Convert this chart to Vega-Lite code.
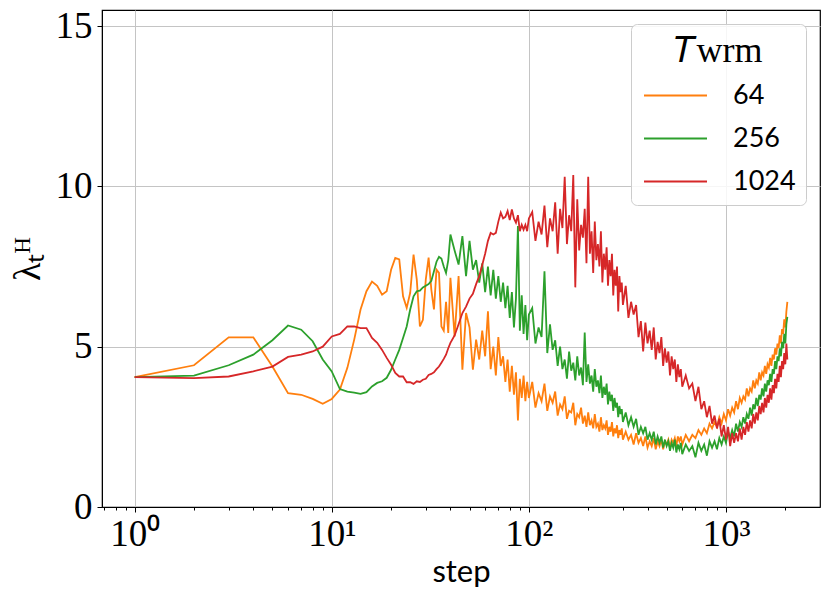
{
  "$schema": "https://vega.github.io/schema/vega-lite/v6.json",
  "description": "lambda_t^H versus training step for three warm-up lengths",
  "autosize": "none",
  "padding": {"left": 102, "top": 10, "right": 11, "bottom": 93},
  "width": 718,
  "height": 497,
  "datasets": {
    "w64": [
      {"step":1,"lam":4.05},{"step":2,"lam":4.42},{"step":3,"lam":5.29},{"step":4,"lam":5.29},{"step":5,"lam":4.38},
      {"step":6,"lam":3.55},{"step":7,"lam":3.5},{"step":8,"lam":3.37},{"step":9,"lam":3.22},{"step":10,"lam":3.37},
      {"step":11,"lam":3.66},{"step":12,"lam":4.34},{"step":13,"lam":5.22},{"step":14,"lam":6.16},{"step":15,"lam":6.73},
      {"step":16,"lam":7.03},{"step":17,"lam":6.9},{"step":18,"lam":6.62},{"step":19,"lam":6.73},{"step":20,"lam":7.4},
      {"step":21,"lam":7.77},{"step":22,"lam":7.72},{"step":23,"lam":6.57},{"step":24,"lam":6.21},{"step":25,"lam":6.68},
      {"step":26,"lam":7.87},{"step":27,"lam":7.09},{"step":28,"lam":5.63},{"step":29,"lam":5.84},{"step":30,"lam":7.1},
      {"step":31,"lam":7.78},{"step":32,"lam":6.78},{"step":33,"lam":6.16},{"step":34,"lam":7.4},{"step":35,"lam":7.3},
      {"step":36,"lam":5.63},{"step":37,"lam":5.5},{"step":38,"lam":6.4},{"step":39,"lam":5.43},{"step":40,"lam":7.15},
      {"step":42,"lam":5.32},{"step":44,"lam":7.2},{"step":46,"lam":4.28},{"step":48,"lam":6.05},{"step":50,"lam":5.6},
      {"step":52,"lam":4.28},{"step":54,"lam":5.22},{"step":56,"lam":4.6},{"step":58,"lam":5.5},{"step":60,"lam":4.7},
      {"step":62,"lam":6.1},{"step":64,"lam":4.3},{"step":66,"lam":5.0},{"step":68,"lam":4.1},{"step":70,"lam":5.3},
      {"step":72,"lam":4.4},{"step":74,"lam":4.7},{"step":76,"lam":3.9},{"step":78,"lam":4.6},{"step":80,"lam":3.6},
      {"step":82,"lam":4.4},{"step":84,"lam":3.5},{"step":86,"lam":4.2},{"step":88,"lam":2.7},{"step":90,"lam":4.0},
      {"step":92,"lam":3.4},{"step":94,"lam":4.1},{"step":96,"lam":3.3},{"step":98,"lam":3.9},{"step":100,"lam":3.4},
      {"step":104,"lam":3.9},{"step":108,"lam":3.1},{"step":112,"lam":3.55},{"step":116,"lam":3.3},{"step":120,"lam":3.85},
      {"step":124,"lam":3.0},{"step":128,"lam":3.45},{"step":132,"lam":3.25},{"step":136,"lam":3.6},{"step":140,"lam":2.85},
      {"step":144,"lam":3.2},{"step":148,"lam":3.05},{"step":152,"lam":3.45},{"step":156,"lam":2.75},{"step":160,"lam":3.0},
      {"step":164,"lam":2.95},{"step":168,"lam":3.25},{"step":172,"lam":2.55},{"step":176,"lam":2.9},{"step":180,"lam":2.8},
      {"step":184,"lam":3.1},{"step":188,"lam":2.6},{"step":192,"lam":2.85},{"step":196,"lam":2.5},{"step":200,"lam":2.95},
      {"step":204,"lam":2.55},{"step":208,"lam":2.7},{"step":212,"lam":2.45},{"step":216,"lam":2.9},{"step":220,"lam":2.5},
      {"step":224,"lam":2.6},{"step":228,"lam":2.35},{"step":232,"lam":2.8},{"step":236,"lam":2.4},{"step":240,"lam":2.55},
      {"step":244,"lam":2.45},{"step":248,"lam":2.7},{"step":252,"lam":2.25},{"step":256,"lam":2.5},{"step":260,"lam":2.35},
      {"step":264,"lam":2.65},{"step":268,"lam":2.2},{"step":272,"lam":2.45},{"step":276,"lam":2.3},{"step":280,"lam":2.55},
      {"step":284,"lam":2.15},{"step":288,"lam":2.4},{"step":292,"lam":2.25},{"step":296,"lam":2.45},{"step":300,"lam":2.1},
      {"step":310,"lam":2.35},{"step":320,"lam":2.1},{"step":330,"lam":2.25},{"step":340,"lam":1.95},{"step":350,"lam":2.3},
      {"step":360,"lam":2.0},{"step":370,"lam":2.15},{"step":380,"lam":1.9},{"step":390,"lam":2.2},{"step":400,"lam":1.85},
      {"step":410,"lam":2.05},{"step":420,"lam":1.9},{"step":430,"lam":2.15},{"step":440,"lam":1.8},{"step":450,"lam":2.05},
      {"step":460,"lam":1.9},{"step":470,"lam":2.1},{"step":480,"lam":1.8},{"step":490,"lam":2.05},{"step":500,"lam":1.95},
      {"step":510,"lam":2.1},{"step":520,"lam":1.85},{"step":530,"lam":2.1},{"step":540,"lam":2.0},{"step":550,"lam":2.15},
      {"step":560,"lam":1.9},{"step":570,"lam":2.2},{"step":580,"lam":2.05},{"step":590,"lam":2.2},{"step":600,"lam":1.95},
      {"step":625,"lam":2.25},{"step":650,"lam":2.05},{"step":675,"lam":2.25},{"step":700,"lam":2.15},{"step":725,"lam":2.4},
      {"step":750,"lam":2.25},{"step":775,"lam":2.45},{"step":800,"lam":2.3},{"step":825,"lam":2.6},{"step":850,"lam":2.45},
      {"step":875,"lam":2.65},{"step":900,"lam":2.5},{"step":925,"lam":2.8},{"step":950,"lam":2.6},{"step":975,"lam":2.9},
      {"step":1000,"lam":2.7},{"step":1025,"lam":3.05},{"step":1050,"lam":2.85},{"step":1075,"lam":3.1},{"step":1100,"lam":2.95},
      {"step":1125,"lam":3.3},{"step":1150,"lam":3.05},{"step":1175,"lam":3.4},{"step":1200,"lam":3.25},{"step":1225,"lam":3.45},
      {"step":1250,"lam":3.35},{"step":1275,"lam":3.7},{"step":1300,"lam":3.45},{"step":1325,"lam":3.7},{"step":1350,"lam":3.6},
      {"step":1375,"lam":3.95},{"step":1400,"lam":3.7},{"step":1425,"lam":3.95},{"step":1450,"lam":3.85},{"step":1475,"lam":4.2},
      {"step":1500,"lam":3.95},{"step":1525,"lam":4.2},{"step":1550,"lam":4.1},{"step":1575,"lam":4.4},{"step":1600,"lam":4.15},
      {"step":1625,"lam":4.45},{"step":1650,"lam":4.35},{"step":1675,"lam":4.65},{"step":1700,"lam":4.4},{"step":1725,"lam":4.75},
      {"step":1750,"lam":4.6},{"step":1775,"lam":4.95},{"step":1800,"lam":4.75},{"step":1825,"lam":5.1},{"step":1850,"lam":4.95},
      {"step":1875,"lam":5.35},{"step":1900,"lam":5.1},{"step":1925,"lam":5.55},{"step":1950,"lam":5.4},{"step":1975,"lam":5.85},
      {"step":2000,"lam":5.6},{"step":2025,"lam":6.1},{"step":2048,"lam":6.4}
    ],
    "w256": [
      {"step":1,"lam":4.05},{"step":2,"lam":4.1},{"step":3,"lam":4.42},{"step":4,"lam":4.75},{"step":5,"lam":5.2},
      {"step":6,"lam":5.66},{"step":7,"lam":5.53},{"step":8,"lam":5.17},{"step":9,"lam":4.6},{"step":10,"lam":4.23},
      {"step":11,"lam":3.68},{"step":12,"lam":3.6},{"step":13,"lam":3.57},{"step":14,"lam":3.53},{"step":15,"lam":3.58},
      {"step":16,"lam":3.76},{"step":17,"lam":3.87},{"step":18,"lam":3.92},{"step":19,"lam":4.03},{"step":20,"lam":4.28},
      {"step":21,"lam":4.6},{"step":22,"lam":4.9},{"step":23,"lam":5.27},{"step":24,"lam":5.63},{"step":25,"lam":6.16},
      {"step":26,"lam":6.57},{"step":27,"lam":6.73},{"step":28,"lam":6.75},{"step":29,"lam":6.85},{"step":30,"lam":6.9},
      {"step":31,"lam":6.95},{"step":32,"lam":7.05},{"step":33,"lam":7.35},{"step":34,"lam":7.65},{"step":35,"lam":7.8},
      {"step":36,"lam":7.75},{"step":37,"lam":7.5},{"step":38,"lam":7.3},{"step":39,"lam":7.7},{"step":40,"lam":8.5},
      {"step":42,"lam":8.0},{"step":44,"lam":7.56},{"step":46,"lam":8.45},{"step":48,"lam":7.2},{"step":50,"lam":8.3},
      {"step":52,"lam":7.4},{"step":54,"lam":7.7},{"step":56,"lam":7.0},{"step":58,"lam":7.6},{"step":60,"lam":6.7},
      {"step":62,"lam":7.5},{"step":64,"lam":6.6},{"step":66,"lam":7.4},{"step":68,"lam":6.5},{"step":70,"lam":7.2},
      {"step":72,"lam":6.4},{"step":74,"lam":7.0},{"step":76,"lam":6.2},{"step":78,"lam":6.9},{"step":80,"lam":5.9},
      {"step":82,"lam":6.7},{"step":84,"lam":5.6},{"step":86,"lam":6.5},{"step":88,"lam":8.76},{"step":90,"lam":5.5},
      {"step":92,"lam":6.6},{"step":94,"lam":5.4},{"step":96,"lam":6.3},{"step":98,"lam":5.2},{"step":100,"lam":6.0},
      {"step":104,"lam":6.2},{"step":108,"lam":5.1},{"step":112,"lam":5.6},{"step":116,"lam":5.3},{"step":120,"lam":7.35},
      {"step":124,"lam":4.8},{"step":128,"lam":5.7},{"step":132,"lam":4.9},{"step":136,"lam":5.2},{"step":140,"lam":4.4},
      {"step":144,"lam":5.0},{"step":148,"lam":4.3},{"step":152,"lam":4.6},{"step":156,"lam":4.0},{"step":160,"lam":4.85},
      {"step":164,"lam":4.25},{"step":168,"lam":4.5},{"step":172,"lam":3.95},{"step":176,"lam":4.7},{"step":180,"lam":4.1},
      {"step":184,"lam":4.35},{"step":188,"lam":3.8},{"step":192,"lam":5.44},{"step":196,"lam":3.9},{"step":200,"lam":4.45},
      {"step":204,"lam":3.85},{"step":208,"lam":4.1},{"step":212,"lam":3.6},{"step":216,"lam":4.3},{"step":220,"lam":3.75},
      {"step":224,"lam":3.95},{"step":228,"lam":3.55},{"step":232,"lam":4.1},{"step":236,"lam":3.4},{"step":240,"lam":3.75},
      {"step":244,"lam":3.5},{"step":248,"lam":3.85},{"step":252,"lam":3.2},{"step":256,"lam":3.6},{"step":260,"lam":3.3},
      {"step":264,"lam":3.5},{"step":268,"lam":3.0},{"step":272,"lam":3.4},{"step":276,"lam":3.1},{"step":280,"lam":3.25},
      {"step":284,"lam":2.8},{"step":288,"lam":3.15},{"step":292,"lam":2.9},{"step":296,"lam":3.05},{"step":300,"lam":2.65},
      {"step":310,"lam":2.95},{"step":320,"lam":2.55},{"step":330,"lam":2.8},{"step":340,"lam":2.5},{"step":350,"lam":2.75},
      {"step":360,"lam":2.25},{"step":370,"lam":2.5},{"step":380,"lam":2.3},{"step":390,"lam":2.5},{"step":400,"lam":2.1},
      {"step":410,"lam":2.3},{"step":420,"lam":2.1},{"step":430,"lam":2.35},{"step":440,"lam":1.95},{"step":450,"lam":2.2},
      {"step":460,"lam":2.0},{"step":470,"lam":2.2},{"step":480,"lam":1.85},{"step":490,"lam":2.1},{"step":500,"lam":1.9},
      {"step":510,"lam":2.05},{"step":520,"lam":1.75},{"step":530,"lam":2.0},{"step":540,"lam":1.85},{"step":550,"lam":2.1},
      {"step":560,"lam":1.7},{"step":570,"lam":1.95},{"step":580,"lam":1.8},{"step":590,"lam":2.0},{"step":600,"lam":1.65},
      {"step":625,"lam":1.95},{"step":650,"lam":1.75},{"step":675,"lam":1.9},{"step":700,"lam":1.55},{"step":725,"lam":2.0},
      {"step":750,"lam":1.75},{"step":775,"lam":1.95},{"step":800,"lam":1.6},{"step":825,"lam":2.05},{"step":850,"lam":1.85},
      {"step":875,"lam":2.05},{"step":900,"lam":1.8},{"step":925,"lam":2.15},{"step":950,"lam":1.95},{"step":975,"lam":2.2},
      {"step":1000,"lam":2.0},{"step":1025,"lam":2.35},{"step":1050,"lam":2.15},{"step":1075,"lam":2.4},{"step":1100,"lam":2.2},
      {"step":1125,"lam":2.6},{"step":1150,"lam":2.35},{"step":1175,"lam":2.65},{"step":1200,"lam":2.5},{"step":1225,"lam":2.8},
      {"step":1250,"lam":2.6},{"step":1275,"lam":2.9},{"step":1300,"lam":2.75},{"step":1325,"lam":3.1},{"step":1350,"lam":2.85},
      {"step":1375,"lam":3.2},{"step":1400,"lam":3.05},{"step":1425,"lam":3.4},{"step":1450,"lam":3.15},{"step":1475,"lam":3.5},
      {"step":1500,"lam":3.35},{"step":1525,"lam":3.7},{"step":1550,"lam":3.45},{"step":1575,"lam":3.85},{"step":1600,"lam":3.6},
      {"step":1625,"lam":3.95},{"step":1650,"lam":3.8},{"step":1675,"lam":4.15},{"step":1700,"lam":3.9},{"step":1725,"lam":4.3},
      {"step":1750,"lam":4.15},{"step":1775,"lam":4.55},{"step":1800,"lam":4.3},{"step":1825,"lam":4.7},{"step":1850,"lam":4.55},
      {"step":1875,"lam":4.95},{"step":1900,"lam":4.7},{"step":1925,"lam":5.15},{"step":1950,"lam":4.95},{"step":1975,"lam":5.4},
      {"step":2000,"lam":5.1},{"step":2025,"lam":5.7},{"step":2048,"lam":5.93}
    ],
    "w1024": [
      {"step":1,"lam":4.05},{"step":2,"lam":4.02},{"step":3,"lam":4.07},{"step":4,"lam":4.23},{"step":5,"lam":4.38},
      {"step":6,"lam":4.68},{"step":7,"lam":4.75},{"step":8,"lam":4.85},{"step":9,"lam":5.0},{"step":10,"lam":5.32},
      {"step":11,"lam":5.4},{"step":12,"lam":5.63},{"step":13,"lam":5.63},{"step":14,"lam":5.58},{"step":15,"lam":5.58},
      {"step":16,"lam":5.27},{"step":17,"lam":5.12},{"step":18,"lam":4.9},{"step":19,"lam":4.65},{"step":20,"lam":4.44},
      {"step":21,"lam":4.18},{"step":22,"lam":4.07},{"step":23,"lam":4.07},{"step":24,"lam":3.89},{"step":25,"lam":3.89},
      {"step":26,"lam":3.84},{"step":27,"lam":3.92},{"step":28,"lam":3.9},{"step":29,"lam":3.97},{"step":30,"lam":4.0},
      {"step":31,"lam":4.12},{"step":32,"lam":4.15},{"step":33,"lam":4.2},{"step":34,"lam":4.3},{"step":35,"lam":4.38},
      {"step":36,"lam":4.5},{"step":37,"lam":4.62},{"step":38,"lam":4.75},{"step":39,"lam":4.95},{"step":40,"lam":5.12},
      {"step":42,"lam":5.35},{"step":44,"lam":5.7},{"step":46,"lam":6.05},{"step":48,"lam":6.25},{"step":50,"lam":6.5},
      {"step":52,"lam":6.65},{"step":54,"lam":6.95},{"step":56,"lam":7.2},{"step":58,"lam":7.55},{"step":60,"lam":7.9},
      {"step":62,"lam":8.3},{"step":64,"lam":8.55},{"step":66,"lam":8.5},{"step":68,"lam":8.55},{"step":70,"lam":8.9},
      {"step":72,"lam":9.18},{"step":74,"lam":9.0},{"step":76,"lam":9.05},{"step":78,"lam":9.23},{"step":80,"lam":8.95},
      {"step":82,"lam":9.28},{"step":84,"lam":9.0},{"step":86,"lam":8.87},{"step":88,"lam":9.1},{"step":90,"lam":8.6},
      {"step":92,"lam":8.8},{"step":94,"lam":8.65},{"step":96,"lam":8.8},{"step":98,"lam":8.6},{"step":100,"lam":9.0},
      {"step":104,"lam":9.2},{"step":108,"lam":8.3},{"step":112,"lam":8.9},{"step":116,"lam":8.5},{"step":120,"lam":9.4},
      {"step":124,"lam":8.1},{"step":128,"lam":9.0},{"step":132,"lam":8.6},{"step":136,"lam":9.5},{"step":140,"lam":7.9},
      {"step":144,"lam":9.3},{"step":148,"lam":8.7},{"step":152,"lam":10.3},{"step":156,"lam":8.2},{"step":160,"lam":9.1},
      {"step":164,"lam":8.6},{"step":168,"lam":10.35},{"step":172,"lam":6.85},{"step":176,"lam":9.6},{"step":180,"lam":8.0},
      {"step":184,"lam":8.8},{"step":188,"lam":8.4},{"step":192,"lam":9.3},{"step":196,"lam":7.6},{"step":200,"lam":10.3},
      {"step":204,"lam":7.9},{"step":208,"lam":8.6},{"step":212,"lam":7.3},{"step":216,"lam":8.9},{"step":220,"lam":7.7},
      {"step":224,"lam":8.2},{"step":228,"lam":7.5},{"step":232,"lam":8.6},{"step":236,"lam":7.0},{"step":240,"lam":7.9},
      {"step":244,"lam":7.4},{"step":248,"lam":8.1},{"step":252,"lam":6.9},{"step":256,"lam":7.7},{"step":260,"lam":7.2},
      {"step":264,"lam":7.9},{"step":268,"lam":6.6},{"step":272,"lam":7.4},{"step":276,"lam":6.9},{"step":280,"lam":7.5},
      {"step":284,"lam":6.1},{"step":288,"lam":7.2},{"step":292,"lam":6.7},{"step":296,"lam":7.0},{"step":300,"lam":6.3},
      {"step":310,"lam":6.9},{"step":320,"lam":5.9},{"step":330,"lam":6.4},{"step":340,"lam":6.0},{"step":350,"lam":6.3},
      {"step":360,"lam":5.3},{"step":370,"lam":5.8},{"step":380,"lam":4.85},{"step":390,"lam":5.75},{"step":400,"lam":5.1},
      {"step":410,"lam":5.5},{"step":420,"lam":4.9},{"step":430,"lam":5.6},{"step":440,"lam":4.6},{"step":450,"lam":5.15},
      {"step":460,"lam":4.8},{"step":470,"lam":5.3},{"step":480,"lam":4.4},{"step":490,"lam":4.95},{"step":500,"lam":4.5},
      {"step":510,"lam":4.85},{"step":520,"lam":4.1},{"step":530,"lam":4.7},{"step":540,"lam":4.3},{"step":550,"lam":4.6},
      {"step":560,"lam":3.9},{"step":570,"lam":4.45},{"step":580,"lam":4.05},{"step":590,"lam":4.3},{"step":600,"lam":3.75},
      {"step":625,"lam":4.1},{"step":650,"lam":3.7},{"step":675,"lam":3.85},{"step":700,"lam":3.3},{"step":725,"lam":3.75},
      {"step":750,"lam":3.05},{"step":775,"lam":3.3},{"step":800,"lam":2.8},{"step":825,"lam":3.15},{"step":850,"lam":2.6},
      {"step":875,"lam":2.85},{"step":900,"lam":2.45},{"step":925,"lam":2.75},{"step":950,"lam":2.2},{"step":975,"lam":2.55},
      {"step":1000,"lam":2.1},{"step":1025,"lam":2.5},{"step":1050,"lam":1.9},{"step":1075,"lam":2.3},{"step":1100,"lam":2.0},
      {"step":1125,"lam":2.3},{"step":1150,"lam":2.05},{"step":1175,"lam":2.45},{"step":1200,"lam":2.1},{"step":1225,"lam":2.5},
      {"step":1250,"lam":2.25},{"step":1275,"lam":2.65},{"step":1300,"lam":2.35},{"step":1325,"lam":2.7},{"step":1350,"lam":2.45},
      {"step":1375,"lam":2.9},{"step":1400,"lam":2.6},{"step":1425,"lam":2.95},{"step":1450,"lam":2.7},{"step":1475,"lam":3.15},
      {"step":1500,"lam":2.9},{"step":1525,"lam":3.25},{"step":1550,"lam":2.95},{"step":1575,"lam":3.4},{"step":1600,"lam":3.1},
      {"step":1625,"lam":3.5},{"step":1650,"lam":3.25},{"step":1675,"lam":3.7},{"step":1700,"lam":3.35},{"step":1725,"lam":3.8},
      {"step":1750,"lam":3.55},{"step":1775,"lam":4.0},{"step":1800,"lam":3.7},{"step":1825,"lam":4.15},{"step":1850,"lam":3.9},
      {"step":1875,"lam":4.4},{"step":1900,"lam":4.05},{"step":1925,"lam":4.55},{"step":1950,"lam":4.3},{"step":1975,"lam":4.8},
      {"step":2000,"lam":4.45},{"step":2025,"lam":5.1},{"step":2048,"lam":4.6}
    ]
  },
  "encoding": {
    "x": {
      "field": "step",
      "type": "quantitative",
      "scale": {"type": "log", "domain": [0.683, 2999], "nice": false},
      "axis": {
        "title": "step",
        "titleFont": "Lato",
        "titleFontSize": 31,
        "titleFontWeight": "normal",
        "titlePadding": 5,
        "values": [0.7, 0.8, 0.9, 1, 2, 3, 4, 5, 6, 7, 8, 9, 10, 20, 30, 40, 50, 60, 70, 80, 90, 100, 200, 300, 400, 500, 600, 700, 800, 900, 1000, 2000],
        "labelExpr": "datum.value == 1 ? '10⁰' : datum.value == 10 ? '10¹' : datum.value == 100 ? '10²' : datum.value == 1000 ? '10³' : ''",
        "labelOverlap": false,
        "labelFlush": false,
        "labelPadding": 4,
        "tickSize": {"condition": {"test": "datum.value == 1 || datum.value == 10 || datum.value == 100 || datum.value == 1000", "value": 5}, "value": 3},
        "gridOpacity": {"condition": {"test": "datum.value == 1 || datum.value == 10 || datum.value == 100 || datum.value == 1000", "value": 1}, "value": 0}
      }
    },
    "y": {
      "field": "lam",
      "type": "quantitative",
      "scale": {"domain": [0, 15.5], "nice": false},
      "axis": {
        "title": "λₜᴴ",
        "titleFont": "Liberation Serif",
        "titleFontSize": 38,
        "titleFontWeight": "normal",
        "titlePadding": 8,
        "values": [0, 5, 10, 15],
        "tickSize": 5,
        "labelPadding": 5
      }
    }
  },
  "layer": [
    {
      "data": {"name": "w64"},
      "mark": {"type": "line", "strokeWidth": 1.8, "clip": true},
      "encoding": {
        "color": {
          "datum": "64",
          "type": "nominal",
          "scale": {"domain": ["64", "256", "1024"], "range": ["#ff7f0e", "#2ca02c", "#d62728"]},
          "legend": {
            "title": "𝑇wrm",
            "titleFont": "Liberation Serif",
            "titleFontSize": 36,
            "titleFontWeight": "normal",
            "titleAnchor": "middle",
            "titlePadding": 12,
            "orient": "top-right",
            "offset": 14,
            "padding": 10,
            "fillColor": "rgba(255,255,255,0.85)",
            "strokeColor": "#cccccc",
            "cornerRadius": 6,
            "labelFont": "Lato",
            "labelFontSize": 27,
            "labelOffset": 44,
            "symbolType": "M-3,0H3",
            "symbolSize": 441,
            "symbolOffset": 21,
            "symbolStrokeWidth": 2,
            "rowPadding": 15
          }
        }
      }
    },
    {
      "data": {"name": "w256"},
      "mark": {"type": "line", "strokeWidth": 1.8, "clip": true},
      "encoding": {"color": {"datum": "256", "type": "nominal"}}
    },
    {
      "data": {"name": "w1024"},
      "mark": {"type": "line", "strokeWidth": 1.8, "clip": true},
      "encoding": {"color": {"datum": "1024", "type": "nominal"}}
    }
  ],
  "config": {
    "view": {"stroke": "black", "strokeWidth": 1.2},
    "axis": {
      "domainColor": "black",
      "tickColor": "black",
      "gridColor": "#c4c4c4",
      "gridWidth": 1,
      "labelFont": "Liberation Serif",
      "labelFontSize": 37,
      "labelColor": "black",
      "titleColor": "black"
    }
  }
}
